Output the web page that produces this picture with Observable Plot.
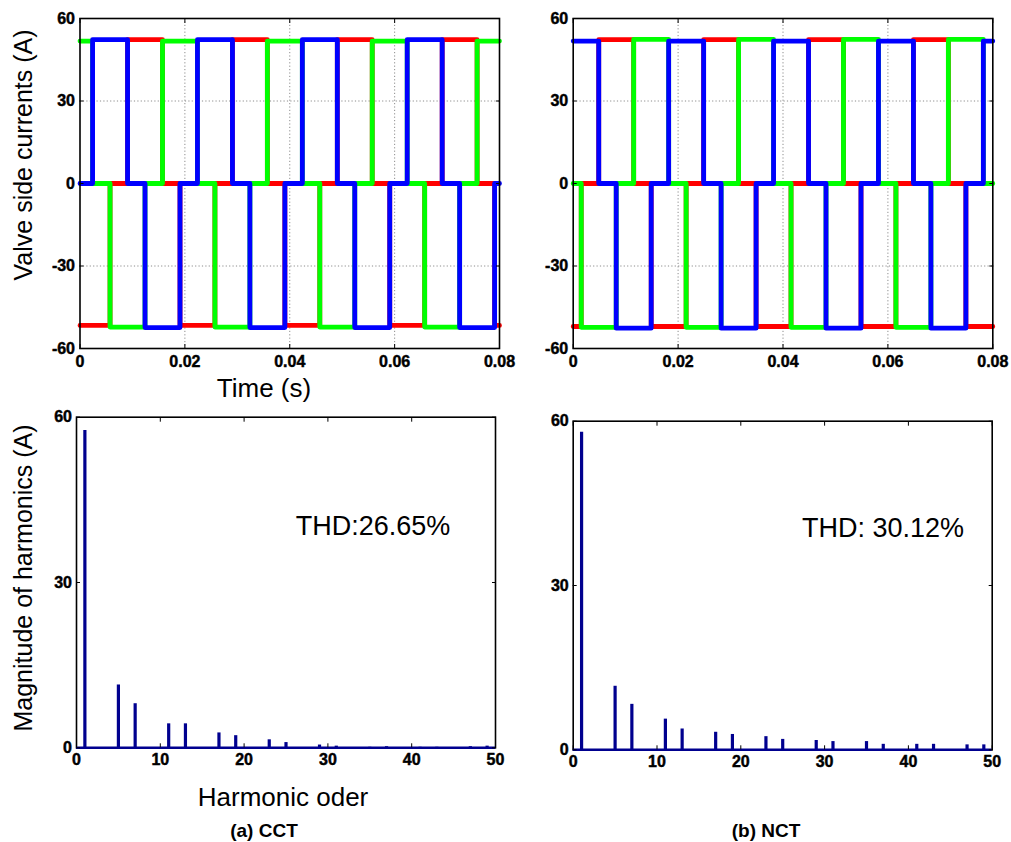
<!DOCTYPE html>
<html><head><meta charset="utf-8">
<script src="https://cdn.jsdelivr.net/npm/d3@7"></script>
<script src="https://cdn.jsdelivr.net/npm/@observablehq/plot@0.6"></script>
<style>
body{margin:0;background:#fff;}
#fig{position:relative;width:1011px;height:842px;background:#fff;overflow:hidden;}
#fig svg{position:absolute;}
</style></head><body><div id="fig"></div>
<script>
// ---------- tick labels ----------
const timeTicks = [0, 0.02, 0.04, 0.06, 0.08];
const timeGrid = [0.02, 0.04, 0.06];
const currentTicks = [-60, -30, 0, 30, 60];
const currentGrid = [-30, 0, 30];
const orderTicks = [0, 10, 20, 30, 40, 50];
const magTicks = [0, 30, 60];

// ---------- (a) CCT valve side currents: switching instants (s) and level after each (A) ----------
const cctRedT   = [0, 0.00573, 0.00907, 0.01573, 0.01907, 0.02573, 0.02907, 0.03573, 0.03907, 0.04573, 0.04907, 0.05573, 0.05907, 0.06573, 0.06907, 0.07573, 0.07907, 0.08];
const cctRedI   = [-51.6, 0, 52.3, 0, -51.6, 0, 52.3, 0, -51.6, 0, 52.3, 0, -51.6, 0, 52.3, 0, -51.6, -51.6];
const cctGreenT = [0, 0.0024, 0.00573, 0.0124, 0.01573, 0.0224, 0.02573, 0.0324, 0.03573, 0.0424, 0.04573, 0.0524, 0.05573, 0.0624, 0.06573, 0.0724, 0.07573, 0.08];
const cctGreenI = [51.8, 0, -52.2, 0, 51.8, 0, -52.2, 0, 51.8, 0, -52.2, 0, 51.8, 0, -52.2, 0, 51.8, 51.8];
const cctBlueT  = [0, 0.0024, 0.00907, 0.0124, 0.01907, 0.0224, 0.02907, 0.0324, 0.03907, 0.0424, 0.04907, 0.0524, 0.05907, 0.0624, 0.06907, 0.0724, 0.07907, 0.08];
const cctBlueI  = [0, 52.3, 0, -52.4, 0, 52.3, 0, -52.4, 0, 52.3, 0, -52.4, 0, 52.3, 0, -52.4, 0, 0];

// ---------- (b) NCT valve side currents ----------
const nctRedT   = [0, 0.00153, 0.00487, 0.01153, 0.01487, 0.02153, 0.02487, 0.03153, 0.03487, 0.04153, 0.04487, 0.05153, 0.05487, 0.06153, 0.06487, 0.07153, 0.07487, 0.08];
const nctRedI   = [-52, 0, 52.3, 0, -52, 0, 52.3, 0, -52, 0, 52.3, 0, -52, 0, 52.3, 0, -52, -52];
const nctGreenT = [0, 0.00153, 0.0082, 0.01153, 0.0182, 0.02153, 0.0282, 0.03153, 0.0382, 0.04153, 0.0482, 0.05153, 0.0582, 0.06153, 0.0682, 0.07153, 0.0782, 0.08];
const nctGreenI = [0, -52.3, 0, 52.4, 0, -52.3, 0, 52.4, 0, -52.3, 0, 52.4, 0, -52.3, 0, 52.4, 0, 0];
const nctBlueT  = [0, 0.00487, 0.0082, 0.01487, 0.0182, 0.02487, 0.0282, 0.03487, 0.0382, 0.04487, 0.0482, 0.05487, 0.0582, 0.06487, 0.0682, 0.07487, 0.0782, 0.08];
const nctBlueI  = [51.8, 0, -52.6, 0, 51.8, 0, -52.6, 0, 51.8, 0, -52.6, 0, 51.8, 0, -52.6, 0, 51.8, 51.8];

// ---------- harmonic spectra ----------
const harmOrder = [1, 5, 7, 11, 13, 17, 19, 23, 25, 29, 31, 35, 37, 41, 43, 47, 49];
const cctHarm   = [57.6, 11.4, 8.0, 4.35, 4.35, 2.7, 2.2, 1.45, 0.95, 0.5, 0.3, 0.1, 0.2, 0.1, 0.1, 0.2, 0.3];
const nctHarm   = [58.0, 11.6, 8.3, 5.6, 3.8, 3.2, 2.8, 2.4, 1.9, 1.7, 1.5, 1.5, 1.0, 1.0, 1.0, 0.9, 0.9];

// ---------- texts ----------
const thdLabels = ["THD:26.65%", "THD: 30.12%"];
const captions = ["(a) CCT", "(b) NCT"];
const titles = {waveY: "Valve side currents (A)", waveX: "Time (s)", harmY: "Magnitude of harmonics (A)", harmX: "Harmonic oder"};

const phaseColor = {red: "#ff0000", green: "#00ff00", blue: "#0000ff"};
const navy = "#00008f";
const FONT = "'Liberation Sans', Arial, Helvetica, sans-serif";

function rows(ts, is) { return ts.map((t, k) => ({t, i: is[k]})); }

const fig = document.getElementById("fig");

const STYLE = `background:transparent;font-family:${FONT};color:#000;overflow:visible;`;

function place(svg, left, top) {
  svg.style.background = "transparent";
  svg.style.left = left + "px";
  svg.style.top = top + "px";
  fig.appendChild(svg);
}

const tickText = {fontSize: 16, fontWeight: "bold", fontFamily: FONT, fill: "#000", textStroke: "#000", textStrokeWidth: 0.45, textStrokeOpacity: 1};

function boxTicks(xt, yt, padX, padY) {
  return [
    Plot.axisX(xt, {anchor: "bottom", tickSize: 0, tickPadding: padX, tickFormat: d => String(d), label: null, ...tickText}),
    Plot.axisX(xt, {anchor: "bottom", tickSize: -4, tickFormat: () => "", label: null, stroke: "#000"}),
    Plot.axisX(xt, {anchor: "top", tickSize: -4, tickFormat: () => "", label: null, stroke: "#000"}),
    Plot.axisY(yt, {anchor: "left", tickSize: 0, tickPadding: padY, tickFormat: d => String(d), label: null, ...tickText}),
    Plot.axisY(yt, {anchor: "left", tickSize: -4, tickFormat: () => "", label: null, stroke: "#000"}),
    Plot.axisY(yt, {anchor: "right", tickSize: -4, tickFormat: () => "", label: null, stroke: "#000"})
  ];
}

function wavePanel(phases, left, w, mL, mR) {
  const gridStyle = {stroke: "#808080", strokeOpacity: 1, strokeWidth: 0.9, strokeDasharray: "1.2,2.2"};
  const svg = Plot.plot({
    width: w, height: 400,
    marginLeft: mL, marginRight: mR, marginTop: 18, marginBottom: 52,
    x: {domain: [0, 0.08], axis: null},
    y: {domain: [-60, 60], axis: null},
    style: STYLE,
    marks: [
      Plot.gridX(timeGrid, gridStyle),
      Plot.gridY(currentGrid, gridStyle),
      ...phases.map(([name, data]) => Plot.line(data, {x: "t", y: "i", stroke: phaseColor[name], strokeWidth: 4.8, curve: "step-after", strokeLinejoin: "round", strokeLinecap: "round"})),
      Plot.frame({stroke: "#000", strokeWidth: 1.6}),
      ...boxTicks(timeTicks, currentTicks, 7.5, 5)
    ]
  });
  place(svg, left, 0);
}

function harmPanel(values, left, w, mL, mR, mT, mB) {
  const data = harmOrder.map((h, k) => ({h, v: values[k]}));
  const svg = Plot.plot({
    width: w, height: 442,
    marginLeft: mL, marginRight: mR, marginTop: mT, marginBottom: mB,
    x: {domain: [0, 50], axis: null},
    y: {domain: [0, 60], axis: null},
    style: STYLE,
    marks: [
      Plot.ruleX(data, {x: "h", y1: 0, y2: "v", stroke: navy, strokeWidth: 3.2}),
      Plot.frame({stroke: "#000", strokeWidth: 1.6}),
      Plot.ruleY([0], {stroke: navy, strokeWidth: 2.6}),
      ...boxTicks(orderTicks, magTicks, 6, 4.5)
    ]
  });
  place(svg, left, 400);
}

wavePanel([["red", rows(cctRedT, cctRedI)], ["green", rows(cctGreenT, cctGreenI)], ["blue", rows(cctBlueT, cctBlueI)]], 0, 520, 79.5, 21);
wavePanel([["red", rows(nctRedT, nctRedI)], ["green", rows(nctGreenT, nctGreenI)], ["blue", rows(nctBlueT, nctBlueI)]], 510, 501, 62.7, 18.7);
harmPanel(cctHarm, 0, 520, 76, 25, 16.7, 94.7);
harmPanel(nctHarm, 510, 501, 62.7, 19.3, 20.7, 92.7);

// ---------- text overlay ----------
const ov = d3.select(fig).append("svg")
  .attr("width", 1011).attr("height", 842)
  .style("left", "0px").style("top", "0px").style("pointer-events", "none")
  .attr("font-family", FONT).attr("fill", "#000");

function txt(s, x, y, size, weight, rot) {
  const t = ov.append("text").attr("text-anchor", "middle").attr("font-size", size)
    .attr("font-weight", weight || "normal").text(s);
  if (rot) t.attr("transform", `translate(${x},${y}) rotate(${rot})`);
  else t.attr("x", x).attr("y", y);
}
txt(titles.waveY, 32, 155, 25, "normal", -90);
txt(titles.harmY, 32, 578, 25, "normal", -90);
txt(titles.waveX, 264, 397, 26);
txt(titles.harmX, 283, 806, 26);
txt(thdLabels[0], 373, 535, 27);
txt(thdLabels[1], 883, 537, 27);
txt(captions[0], 264, 837, 19, "bold");
txt(captions[1], 766, 837, 19, "bold");
</script>
</body></html>
